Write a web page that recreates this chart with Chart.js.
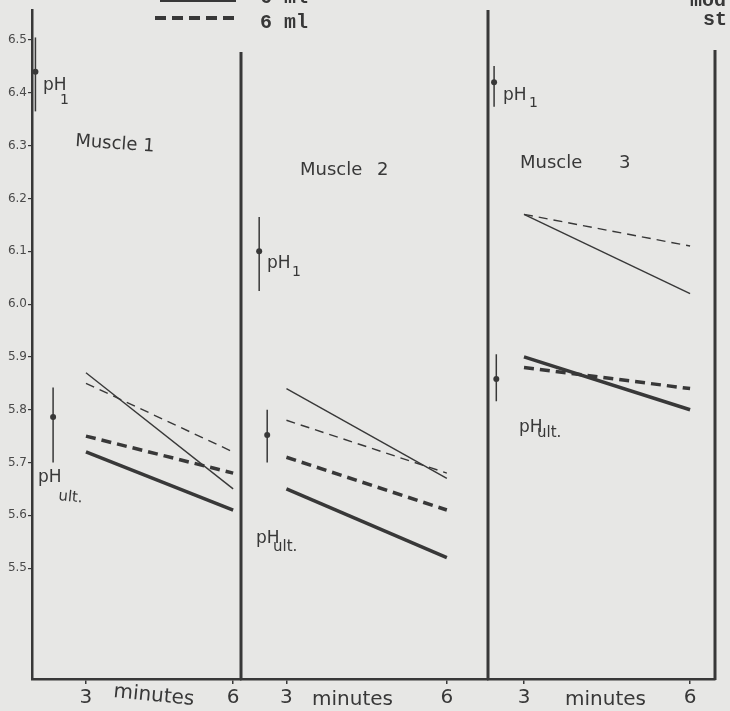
<!DOCTYPE html>
<html>
<head>
<meta charset="utf-8">
<script src="https://cdn.jsdelivr.net/npm/chart.js@4.4.1/dist/chart.umd.min.js"></script>
<style>
  body { margin: 0; background: #e7e7e5; }
  #wrap { position: relative; width: 730px; height: 711px; overflow: hidden; }
  #wrap canvas { position: absolute; left: 0; top: 0; }
</style>
</head>
<body>
<div id="wrap">
  <canvas id="p1" width="730" height="711"></canvas>
  <canvas id="p2" width="730" height="711"></canvas>
  <canvas id="p3" width="730" height="711"></canvas>
</div>
<script>
// readings at 3 and 6 minutes, one row per muscle
const minutes = [3, 6];
const xTicks = [3, 6];
const yTicks = [5.5, 5.6, 5.7, 5.8, 5.9, 6.0, 6.1, 6.2, 6.3, 6.4, 6.5];
const muscles = ["Muscle 1", "Muscle 2", "Muscle 3"];

const thinSolid   = [[5.87, 5.65], [5.84, 5.67], [6.17, 6.02]];
const thinDashed  = [[5.85, 5.72], [5.78, 5.68], [6.17, 6.11]];
const thickSolid  = [[5.72, 5.61], [5.65, 5.52], [5.90, 5.80]];
const thickDashed = [[5.75, 5.68], [5.71, 5.61], [5.88, 5.84]];

// pH1 and pH ult. mean with range, plotted left of the 3 min reading
const ph1X    = [1.97, 2.49, 2.46];
const ph1Mean = [6.44, 6.10, 6.42];
const ph1Low  = [6.365, 6.025, 6.374];
const ph1High = [6.505, 6.165, 6.451];

const phUltX    = [2.33, 2.64, 2.50];
const phUltMean = [5.786, 5.752, 5.858];
const phUltLow  = [5.700, 5.700, 5.816];
const phUltHigh = [5.842, 5.800, 5.905];

const ink = "#383838";
const yMin = 5.29, yMax = 6.557;

// where each panel sits on the page
const panels = [
  { id: "p1", left: 32,  right: 241, xMin: 1.9,  xMax: 6.16, sepTop: 52, showY: true },
  { id: "p2", left: 241, right: 488, xMin: 2.15, xMax: 6.77, sepTop: 10, showY: false },
  { id: "p3", left: 488, right: 715, xMin: 2.35, xMax: 6.45, sepTop: 50, showY: false }
];

const labels = [
  [
    { t: "pH", x: 43, y: 90, size: 17 }, { t: "1", x: 60, y: 104, size: 14 },
    { t: muscles[0], x: 75, y: 146, size: 18, rot: 0.07 },
    { t: "pH", x: 38, y: 482, size: 17 }, { t: "ult.", x: 58, y: 500, size: 15, rot: 0.1 },
    { t: "minutes", x: 113, y: 697, size: 20, rot: 0.1 },
    { t: "6 ml", x: 260, y: 3, size: 20, bold: true, family: "Liberation Mono" },
    { t: "6 ml", x: 260, y: 28, size: 20, bold: true, family: "Liberation Mono" },
    { t: "mod", x: 690, y: 6, size: 20, bold: true, family: "Liberation Mono" },
    { t: "st", x: 703, y: 25, size: 20, bold: true, family: "Liberation Mono" }
  ],
  [
    { t: "pH", x: 267, y: 268, size: 17 }, { t: "1", x: 292, y: 276, size: 14 },
    { t: "Muscle", x: 300, y: 175, size: 18 }, { t: "2", x: 377, y: 175, size: 18 },
    { t: "pH", x: 256, y: 543, size: 17 }, { t: "ult.", x: 273, y: 551, size: 15 },
    { t: "minutes", x: 312, y: 705, size: 20 }
  ],
  [
    { t: "pH", x: 503, y: 100, size: 17 }, { t: "1", x: 529, y: 107, size: 14 },
    { t: "Muscle", x: 520, y: 168, size: 18 }, { t: "3", x: 619, y: 168, size: 18 },
    { t: "pH", x: 519, y: 432, size: 17 }, { t: "ult.", x: 537, y: 437, size: 15 },
    { t: "minutes", x: 565, y: 705, size: 20 }
  ]
];

const legendLines = [
  { x1: 160, x2: 236, y: 0, dash: [] },
  { x1: 155, x2: 236, y: 18, dash: [11, 6] }
];

const decor = {
  id: "decor",
  afterDraw(chart, args, opts) {
    const { ctx, chartArea } = chart;
    ctx.save();
    ctx.strokeStyle = ink;
    ctx.fillStyle = ink;
    ctx.lineWidth = 3;
    ctx.beginPath();
    ctx.moveTo(chartArea.right, opts.sepTop);
    ctx.lineTo(chartArea.right, chartArea.bottom + 1);
    ctx.stroke();
    (opts.lines || []).forEach(l => {
      ctx.lineWidth = 4;
      ctx.setLineDash(l.dash);
      ctx.beginPath();
      ctx.moveTo(l.x1, l.y);
      ctx.lineTo(l.x2, l.y);
      ctx.stroke();
    });
    ctx.setLineDash([]);
    opts.labels.forEach(l => {
      ctx.save();
      ctx.translate(l.x, l.y);
      ctx.rotate(l.rot || 0);
      ctx.font = (l.bold ? "bold " : "") + l.size + "px " + (l.family || "'DejaVu Sans'");
      ctx.fillText(l.t, 0, 0);
      ctx.restore();
    });
    ctx.restore();
  }
};

function pts(vals) {
  return minutes.map((m, i) => ({ x: m, y: vals[i] }));
}

function buildDatasets(p) {
  const line = (data, width, dash) => ({
    data, borderColor: ink, borderWidth: width, borderDash: dash,
    pointRadius: 0, fill: false, tension: 0
  });
  return [
    line(pts(thinSolid[p]), 1.4, []),
    line(pts(thinDashed[p]), 1.4, [9, 6]),
    line(pts(thickSolid[p]), 3.5, []),
    line(pts(thickDashed[p]), 3.5, [10, 6]),
    line([{ x: ph1X[p], y: ph1Low[p] }, { x: ph1X[p], y: ph1High[p] }], 1.5, []),
    line([{ x: phUltX[p], y: phUltLow[p] }, { x: phUltX[p], y: phUltHigh[p] }], 1.5, []),
    { data: [{ x: ph1X[p], y: ph1Mean[p] }, { x: phUltX[p], y: phUltMean[p] }],
      showLine: false, pointRadius: 3, pointBackgroundColor: ink, pointBorderWidth: 0 }
  ];
}

panels.forEach((pan, p) => {
  new Chart(document.getElementById(pan.id), {
    type: "line",
    data: { datasets: buildDatasets(p) },
    options: {
      responsive: false,
      animation: false,
      layout: { padding: { left: pan.showY ? 0 : pan.left, right: 730 - pan.right, top: 10, bottom: 0 } },
      plugins: {
        legend: { display: false },
        tooltip: { enabled: false },
        decor: { sepTop: pan.sepTop, labels: labels[p], lines: p === 0 ? legendLines : [] }
      },
      scales: {
        x: {
          type: "linear",
          min: pan.xMin,
          max: pan.xMax,
          afterBuildTicks: s => { s.ticks = xTicks.map(v => ({ value: v })); },
          afterFit: s => { s.height = 32; },
          ticks: { color: ink, font: { family: "'DejaVu Sans'", size: 20 }, padding: 2, maxRotation: 0 },
          grid: { drawOnChartArea: false, color: ink, lineWidth: 1.5, tickLength: 5 },
          border: { display: true, color: ink, width: 2.5 }
        },
        y: {
          display: pan.showY,
          min: yMin,
          max: yMax,
          afterBuildTicks: s => { s.ticks = yTicks.map(v => ({ value: v })); },
          afterFit: s => { s.width = pan.showY ? 32 : 0; },
          ticks: { color: "#4a4a4a", font: { family: "'DejaVu Sans'", size: 12 }, padding: 1,
                   callback: v => v.toFixed(1) },
          grid: { drawOnChartArea: false, color: ink, lineWidth: 1.2, tickLength: 4 },
          border: { display: true, color: ink, width: 2.5 }
        }
      }
    },
    plugins: [decor]
  });
});
</script>
</body>
</html>
